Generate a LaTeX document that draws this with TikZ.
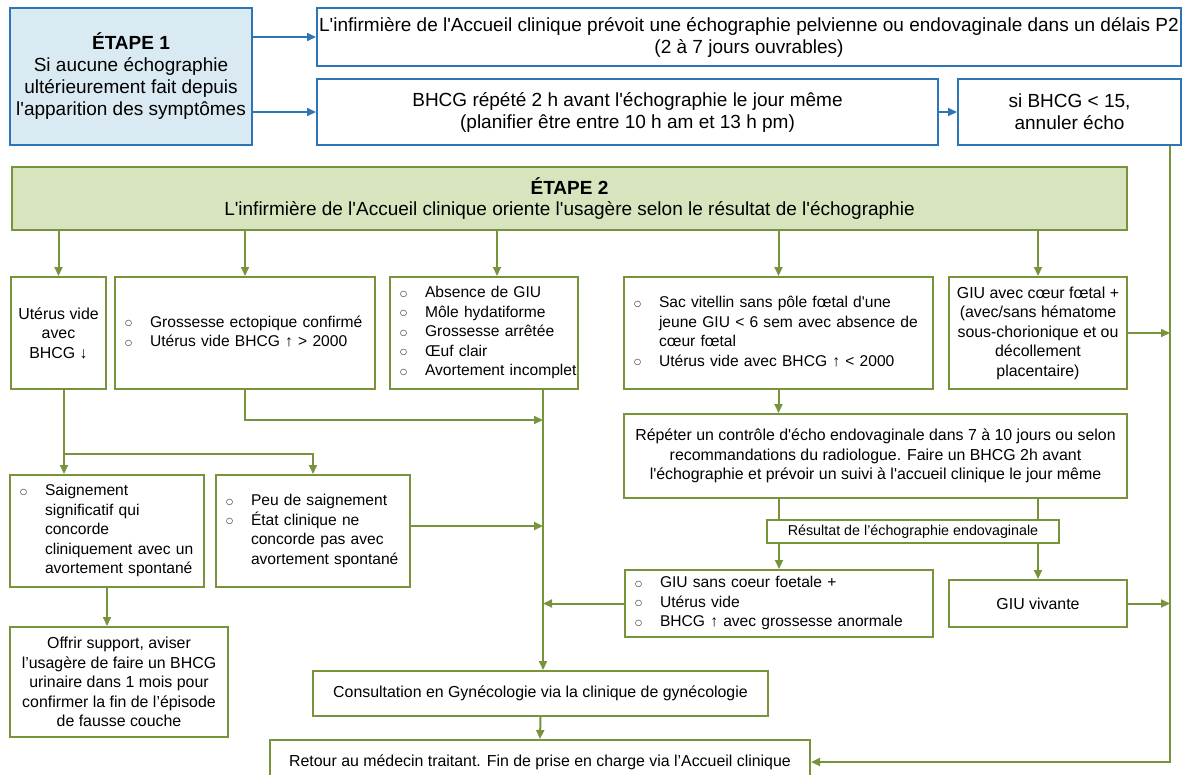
\documentclass[tikz,border=0pt]{standalone}
\usepackage{fontspec}
\setmainfont{Liberation Sans}[Ligatures=TeXOff]
\newfontfamily\symb{DejaVu Sans}
\usetikzlibrary{positioning,arrows.meta,calc}
\definecolor{bleu}{RGB}{46,117,182}
\definecolor{bleupale}{RGB}{218,234,242}
\definecolor{vert}{RGB}{119,147,60}
\definecolor{vertpale}{RGB}{215,228,189}
\newcommand{\rond}{{\symb\fontsize{8}{8}\selectfont\raisebox{1.5pt}{○}}}
\newenvironment{puces}{\noindent\begin{tabular}{@{}p{25pt}@{}l@{}}}{\end{tabular}}

\begin{document}
\begin{tikzpicture}[
  x=1pt, y=-1pt, >=Triangle,
  font=\fontsize{15.9}{19.5}\selectfont,
  bbox/.style={draw=bleu, line width=2pt, fill=white, align=center, inner sep=0pt,
               font=\fontsize{19}{22}\selectfont},
  gbox/.style={draw=vert, line width=2pt, fill=white, align=center, inner sep=0pt},
  lbox/.style={gbox, align=left, font=\fontsize{15.6}{19.5}\selectfont},
  barr/.style={-{Triangle[length=9pt,width=8pt]}, line width=2pt, draw=bleu},
  garr/.style={-{Triangle[length=9pt,width=8pt]}, line width=2pt, draw=vert},
  gline/.style={line width=2pt, draw=vert},
]
\useasboundingbox (0,0) rectangle (1188,774);
\clip (0,0) rectangle (1188,774);

\node[bbox, fill=bleupale, minimum width=242pt, minimum height=137pt] (e1) at (131,76.5)
  {\textbf{ÉTAPE 1}\\Si aucune échographie\\ultérieurement fait depuis\\l'apparition des symptômes};
\node[bbox, minimum width=864pt, minimum height=58pt] (a) at (749,37)
  {L'infirmière de l'Accueil clinique prévoit une échographie pelvienne ou endovaginale dans un délais P2\\(2 à 7 jours ouvrables)};
\node[bbox, minimum width=621pt, minimum height=66pt] (bb) at (627.5,112)
  {BHCG répété 2 h avant l'échographie le jour même\\(planifier être entre 10 h am et 13 h pm)};
\node[bbox, minimum width=223pt, minimum height=66pt] (c) at (1069.5,112)
  {si BHCG < 15,\\annuler écho};

\node[gbox, fill=vertpale, minimum width=1115pt, minimum height=63pt,
      font=\fontsize{19}{21.5}\selectfont] (s2) at (569.5,198.5)
  {\textbf{ÉTAPE 2}\\L'infirmière de l'Accueil clinique oriente l'usagère selon le résultat de l'échographie};

\node[gbox, minimum width=95pt, minimum height=112pt] (b1) at (58.5,333)
  {Utérus vide\\avec\\BHCG ↓};
\node[lbox, text width=240pt, minimum width=260pt, minimum height=112pt] (b2) at (245,333)
  {\begin{puces}\rond & Grossesse ectopique confirmé\\ \rond & Utérus vide BHCG ↑ > 2000\end{puces}};
\node[lbox, text width=168pt, minimum width=188pt, minimum height=112pt] (b3) at (484,333)
  {\begin{puces}\rond & Absence de GIU\\ \rond & Môle hydatiforme\\ \rond & Grossesse arrêtée\\
   \rond & Œuf clair\\ \rond & Avortement incomplet\end{puces}};
\node[lbox, text width=289pt, minimum width=309pt, minimum height=112pt] (b4) at (778.5,333)
  {\begin{puces}\rond & Sac vitellin sans pôle fœtal d'une\\ & jeune GIU < 6 sem avec absence de\\
   & cœur fœtal\\ \rond & Utérus vide avec BHCG ↑ < 2000\end{puces}};
\node[gbox, minimum width=178pt, minimum height=112pt] (b5) at (1038,333)
  {GIU avec cœur fœtal +\\(avec/sans hématome\\sous-chorionique et ou\\décollement\\placentaire)};

\node[lbox, text width=174pt, minimum width=194pt, minimum height=112pt] (b6) at (107,531)
  {\begin{puces}\rond & Saignement\\ & significatif qui\\ & concorde\\ & cliniquement avec un\\
   & avortement spontané\end{puces}};
\node[lbox, text width=174pt, minimum width=194pt, minimum height=112pt] (b7) at (313,531)
  {\begin{puces}\rond & Peu de saignement\\ \rond & État clinique ne\\ & concorde pas avec\\
   & avortement spontané\end{puces}};
\node[gbox, minimum width=218pt, minimum height=110pt] (b8) at (119,682)
  {Offrir support, aviser\\l’usagère de faire un BHCG\\urinaire dans 1 mois pour\\confirmer la fin de l’épisode\\de fausse couche};

\node[gbox, minimum width=503pt, minimum height=84pt] (b9) at (875.5,456)
  {Répéter un contrôle d'écho endovaginale dans 7 à 10 jours ou selon\\recommandations du radiologue. Faire un BHCG 2h avant\\l'échographie et prévoir un suivi à l'accueil clinique le jour même};
\node[gbox, minimum width=292pt, minimum height=23pt, font=\fontsize{14.3}{16}\selectfont] (lab) at (913,531.5)
  {Résultat de l’échographie endovaginale};
\node[lbox, text width=288pt, minimum width=308pt, minimum height=67pt] (b11) at (779,603.5)
  {\begin{puces}\rond & GIU sans coeur foetale +\\ \rond & Utérus vide\\
   \rond & BHCG ↑ avec grossesse anormale\end{puces}};
\node[gbox, minimum width=178pt, minimum height=47pt] (b12) at (1038,603.5)
  {GIU vivante};

\node[gbox, minimum width=455pt, minimum height=45pt] (cons) at (540.5,693.5)
  {Consultation en Gynécologie via la clinique de gynécologie};
\node[gbox, minimum width=540pt, minimum height=44pt] (ret) at (540,762)
  {Retour au médecin traitant. Fin de prise en charge via l’Accueil clinique};

\coordinate (t3) at (497,0);
\coordinate (j1) at (543,420);
\coordinate (k1) at (64,454);
\coordinate (r) at (1170,0);

\draw[barr] (e1.east |- a.west) -- (a.west);
\draw[barr] (e1.east |- bb.west) -- (bb.west);
\draw[barr] (bb.east) -- (c.west);

\foreach \n in {b1,b2,b4,b5}
  \draw[garr] (s2.south -| \n.north) -- (\n.north);
\draw[garr] (s2.south -| t3) -- (b3.north -| t3);

\draw[garr] (b2.south) |- (j1);
\draw[garr] (b3.south -| j1) -- (cons.north -| j1);
\draw[garr] (b1.south -| k1) -- (b6.north -| k1);
\draw[garr] (k1) -| (b7.north);
\draw[garr] (b6.south) -- (b6.south |- b8.north);
\draw[garr] ([yshift=5pt]b7.east) -- ([yshift=5pt]b7.east -| j1);
\draw[garr] (b11.west) -- (b11.west -| j1);

\draw[garr] (b4.south) -- (b4.south |- b9.north);
\draw[gline] (b9.south -| b4.south) -- (lab.north -| b4.south);
\draw[gline] (b9.south -| b5.south) -- (lab.north -| b5.south);
\draw[garr] (lab.south -| b11.north) -- (b11.north);
\draw[garr] (lab.south -| b12.north) -- (b12.north);
\draw[garr] (cons.south) -- (ret.north);

\draw[garr] (c.south -| r) |- (ret.east);
\draw[garr] (b5.east) -- (b5.east -| r);
\draw[garr] (b12.east) -- (b12.east -| r);
\end{tikzpicture}
\end{document}
